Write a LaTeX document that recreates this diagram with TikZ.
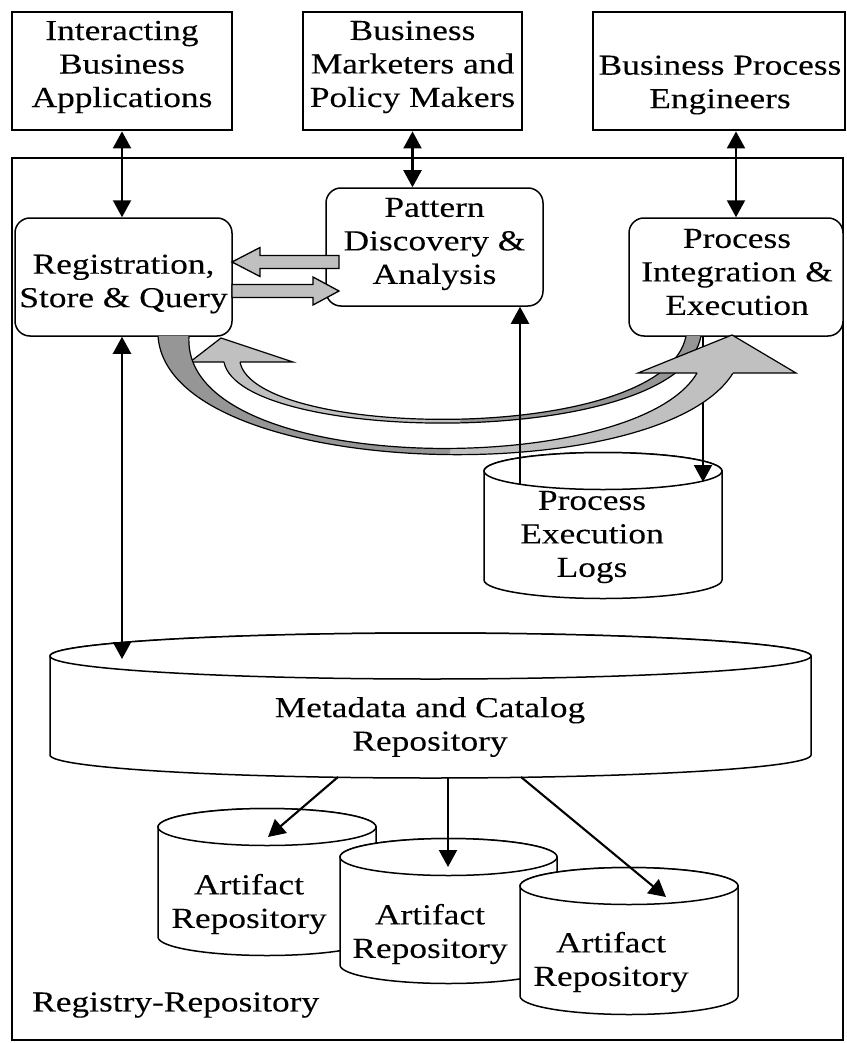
\documentclass[tikz,border=0pt]{standalone}
\usepackage{fontspec}
\setmainfont{Liberation Serif}[FakeStretch=1.22,FakeBold=0.12]
\usetikzlibrary{arrows.meta}
\definecolor{bandlight}{RGB}{192,192,192}
\definecolor{banddark}{RGB}{150,150,150}
\newcommand{\drawcyl}[5]{%
  \pgfmathsetmacro{\cylcx}{(#1+#2)/2}%
  \pgfmathsetmacro{\cylrx}{(#2-#1)/2}%
  \path[cylstyle] (#1,#3) -- (#1,#4) arc[start angle=180,end angle=0,x radius=\cylrx,y radius=#5] -- (#2,#3) arc[start angle=0,end angle=-180,x radius=\cylrx,y radius=#5] -- cycle;
  \draw[cylstyle] (\cylcx,#3) ellipse[x radius=\cylrx,y radius=#5];
}
\begin{document}
\begin{tikzpicture}[x=1pt,y=-1pt,
  txt/.style={font=\fontsize{29}{33.5}\selectfont, align=center, inner sep=0pt},
  topbox/.style={draw, line width=2.8pt, minimum height=118pt, inner sep=0pt, minimum width=#1},
  rbox/.style={draw, fill=white, rounded corners=15pt, line width=1.5pt, minimum width=#1, minimum height=118pt, inner sep=0pt},
  cylstyle/.style={draw, fill=white, line width=1.5pt},
  arr/.style={line width=2.1pt, -{Triangle[length=17pt,width=18pt]}},
  dbl/.style={line width=2.1pt, {Triangle[length=17pt,width=18pt]}-{Triangle[length=17pt,width=18pt]}},
  blockarrow/.style={fill=bandlight, draw, line width=1.3pt, line join=miter},
  bandedge/.style={draw, line width=1.2pt, line join=miter},
]
\useasboundingbox (0,0) rectangle (846,1043);

% container
\node[draw, line width=2.8pt, minimum width=831pt, minimum height=882pt, inner sep=0pt] (regrep) at (427.5,599) {};

% top boxes
\node[topbox=220pt] (ibaBox) at (122,71) {};
\node[txt] (ibaTxt) at (122,67) {Interacting\\Business\\Applications};
\node[topbox=219pt] (bmpBox) at (412.5,71) {};
\node[txt] (bmpTxt) at (412.5,67) {Business\\Marketers and\\Policy Makers};
\node[topbox=252pt] (bpeBox) at (719,71) {};
\node[txt] (bpeTxt) at (720,85) {Business Process\\Engineers};

% cylinders
\drawcyl{484}{722}{471}{580}{18.5}
\node[txt] (logsTxt) at (592,537) {Process\\Execution\\Logs};
\drawcyl{50}{811}{656}{755}{23}
\node[txt] (metaTxt) at (430,727) {Metadata and Catalog\\Repository};
\drawcyl{158}{376}{827}{937}{18.5}
\node[txt] (artA) at (249,904) {Artifact\\Repository};
\drawcyl{340}{557}{857}{965}{18.5}
\node[txt] (artB) at (430,934) {Artifact\\Repository};
\drawcyl{520}{738}{886}{996}{18.5}
\node[txt] (artC) at (611,962) {Artifact\\Repository};

% named attachment points
\coordinate (logsL) at (520,484);
\coordinate (logsR) at (703,482);
\coordinate (metaTop) at (122,659);
\coordinate (metaB1) at (338,777);
\coordinate (metaB2) at (448,778);
\coordinate (metaB3) at (521,777);
\coordinate (artInA) at (268,837);
\coordinate (artInB) at (448,867);
\coordinate (artInC) at (666,897);

% rounded boxes
\node[rbox=217pt] (reg) at (123.5,277) {};
\node[txt] (regTxt) at (123.5,284) {Registration,\\Store \& Query};
\node[rbox=217pt] (pat) at (434.5,247) {};
\node[txt] (patTxt) at (434.5,244) {Pattern\\Discovery \&\\Analysis};
\node[rbox=214pt] (proc) at (736,277) {};
\node[txt] (procTxt) at (737,272) {Process\\Integration \&\\Execution};

% top double arrows
\draw[dbl] (ibaBox.south) -- (ibaBox.south |- reg.north);
\draw[dbl] (bmpBox.south) -- (bmpBox.south |- pat.north);
\draw[dbl] (bpeBox.south -| proc.north) -- (proc.north);

% process -> logs
\draw[arr] (proc.south -| logsR) -- (logsR);

% curved arrow B (inner, from Process to Registration)
\fill[bandlight] (701,336) .. controls (680,450) and (240,445) .. (224,362) -- (240,362) .. controls (255,440) and (665,445) .. (686,336) -- cycle;
\begin{scope}
\clip (460,300) rectangle (760,500);
\fill[banddark] (701,336) .. controls (680,450) and (240,445) .. (224,362) -- (240,362) .. controls (255,440) and (665,445) .. (686,336) -- cycle;
\end{scope}
\draw[bandedge] (701,336) .. controls (680,450) and (240,445) .. (224,362);
\draw[bandedge] (240,362) .. controls (255,440) and (665,445) .. (686,336);
\fill[bandlight] (190,362) -- (221,338) -- (293,362) -- cycle;
\draw[bandedge] (224,362) -- (190,362) -- (221,338) -- (293,362) -- (240,362);

% curved arrow A (outer, from Registration to Process)
\fill[bandlight] (158,336) .. controls (168,482) and (660,492) .. (733,373) -- (697,373) .. controls (635,480) and (180,478) .. (189,336) -- cycle;
\begin{scope}
\clip (100,300) rectangle (450,500);
\fill[banddark] (158,336) .. controls (168,482) and (660,492) .. (733,373) -- (697,373) .. controls (635,480) and (180,478) .. (189,336) -- cycle;
\end{scope}
\draw[bandedge] (158,336) .. controls (168,482) and (660,492) .. (733,373);
\draw[bandedge] (697,373) .. controls (635,480) and (180,478) .. (189,336);
\fill[bandlight] (638,373) -- (732,335) -- (796,373) -- cycle;
\draw[bandedge] (697,373) -- (638,373) -- (732,335) -- (796,373) -- (733,373);

% logs -> pattern
\draw[arr] (logsL) -- (logsL |- pat.south);

% block arrows between Registration and Pattern
\draw[blockarrow] (232,262) -- (260,247.5) -- (260,255.5) -- (339,255.5) -- (339,268.5) -- (260,268.5) -- (260,276.5) -- cycle;
\draw[blockarrow] (232,284.5) -- (313,284.5) -- (313,277) -- (339,291) -- (313,305) -- (313,297.5) -- (232,297.5) -- cycle;

% registration <-> metadata
\draw[dbl] (reg.south -| metaTop) -- (metaTop);

% metadata -> artifacts
\draw[arr] (metaB1) -- (artInA);
\draw[arr] (metaB2) -- (artInB);
\draw[arr] (metaB3) -- (artInC);

\node[txt, anchor=west] (rrLabel) at (32,1005) {Registry-Repository};
\end{tikzpicture}
\end{document}
